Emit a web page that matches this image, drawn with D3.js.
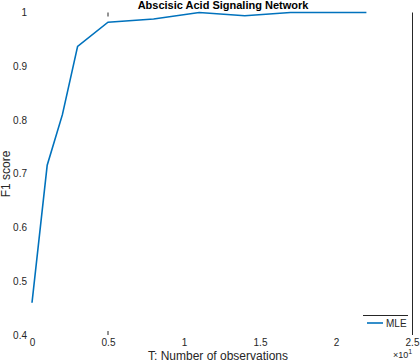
<!DOCTYPE html>
<html>
<head>
<meta charset="utf-8">
<script src="https://cdn.jsdelivr.net/npm/d3@7"></script>
<style>
  body { margin: 0; background: #fff; }
  text { font-family: "Liberation Sans", Arial, sans-serif; fill: #262626; }
</style>
</head>
<body>
<div id="chart"></div>
<script>
// data
var obs = [0, 0.1, 0.2, 0.3, 0.5, 0.8, 1.1, 1.4, 1.7, 2.2];
var f1 = [0.46, 0.716, 0.81, 0.937, 0.982, 0.988, 1.0, 0.994, 1.0, 1.0];
var xTicks = [0, 0.5, 1, 1.5, 2, 2.5];
var yTicks = [0.4, 0.5, 0.6, 0.7, 0.8, 0.9, 1];
var seriesName = 'MLE';

var width = 420, height = 362;
var svg = d3.select('#chart').append('svg')
  .attr('width', width).attr('height', height);

var x = d3.scaleLinear().domain([0, 2.5]).range([32, 412]);
var y = d3.scaleLinear().domain([0.4, 1]).range([335, 12.5]);

// tick labels (axis lines hidden like the original)
var xAxis = svg.append('g').attr('transform', 'translate(0,' + y(0.4) + ')')
  .call(d3.axisBottom(x).tickValues(xTicks).tickSize(0).tickPadding(4)
    .tickFormat(function(d){ return d3.format('')(d); }));
xAxis.select('.domain').remove();
xAxis.selectAll('text').attr('font-size', 10).attr('font-family', null);

var yAxis = svg.append('g').attr('transform', 'translate(' + x(0) + ',0)')
  .call(d3.axisLeft(y).tickValues(yTicks).tickSize(0).tickPadding(5)
    .tickFormat(function(d){ return d3.format('')(d); }));
yAxis.select('.domain').remove();
yAxis.selectAll('text').attr('font-size', 10).attr('font-family', null);

// the few visible axis pieces
svg.append('line')
  .attr('x1', x(2.5) + 0.5).attr('x2', x(2.5) + 0.5).attr('y1', y(1)).attr('y2', y(0.4))
  .attr('stroke', '#262626').attr('stroke-width', 1);
svg.append('line')
  .attr('x1', x(0.5)).attr('x2', x(0.5)).attr('y1', y(0.4)).attr('y2', y(0.4) - 4)
  .attr('stroke', '#262626');
svg.append('line')
  .attr('x1', x(0.5)).attr('x2', x(0.5)).attr('y1', y(1)).attr('y2', y(1) + 4)
  .attr('stroke', '#262626');

// series
var line = d3.line().x(function(d, i){ return x(obs[i]); }).y(function(d){ return y(d); });
svg.append('path').datum(f1)
  .attr('d', line)
  .attr('fill', 'none')
  .attr('stroke', '#0072BD')
  .attr('stroke-width', 1.6);

// title and labels
svg.append('text').attr('x', 223).attr('y', 9)
  .attr('text-anchor', 'middle').attr('font-size', 11).attr('font-weight', 'bold')
  .style('fill', '#000')
  .text('Abscisic Acid Signaling Network');

svg.append('text').attr('x', 218).attr('y', 360)
  .attr('text-anchor', 'middle').attr('font-size', 12)
  .text('T: Number of observations');

svg.append('text').attr('transform', 'translate(10,174) rotate(-90)')
  .attr('text-anchor', 'middle').attr('font-size', 12)
  .text('F1 score');

var expo = svg.append('text').attr('x', 393).attr('y', 358).attr('font-size', 9);
expo.append('tspan').text('\u00d710');
expo.append('tspan').attr('dy', -4).attr('font-size', 7).text('1');

// legend
var lg = svg.append('g');
lg.append('line').attr('x1', 363).attr('x2', 408).attr('y1', 315.5).attr('y2', 315.5)
  .attr('stroke', '#262626');
lg.append('line').attr('x1', 367).attr('x2', 383).attr('y1', 323).attr('y2', 323)
  .attr('stroke', '#0072BD').attr('stroke-width', 1.6);
lg.append('text').attr('x', 386).attr('y', 327).attr('font-size', 10).text(seriesName);
</script>
</body>
</html>
